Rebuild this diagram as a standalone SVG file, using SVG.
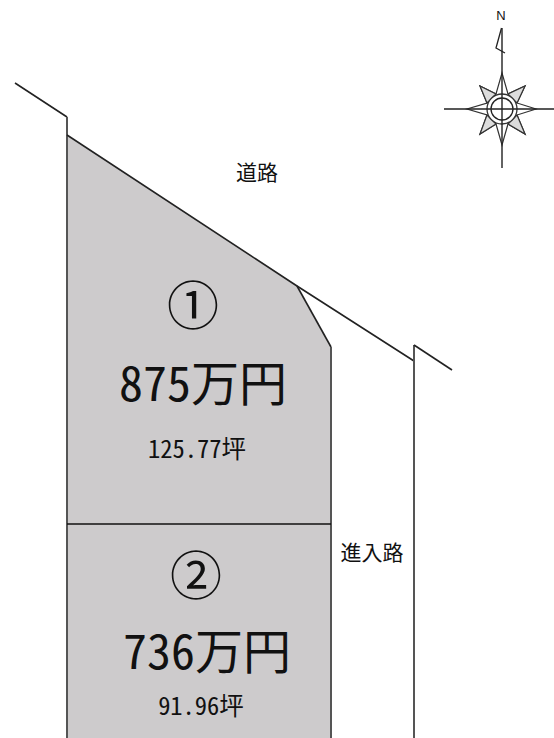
<svg xmlns="http://www.w3.org/2000/svg" width="554" height="738" viewBox="0 0 554 738">
<style>
text{font-family:"Noto Sans CJK JP","Noto Sans CJK SC",sans-serif;font-feature-settings:"hwid";fill:#111;text-anchor:middle}
.l{fill:none;stroke:#222;stroke-width:1.6;stroke-linejoin:miter}
.g{stroke:#555;stroke-width:2;fill:none}
.num{font-size:52px}
.price{font-size:48px}
.area{font-size:24.500px}
.road{font-size:21px}
</style>
<rect width="554" height="738" fill="#fff"/>
<g id="lot1"><path d="M67 135L297 286L331 347V524H67Z" fill="#cdcbcc"/></g>
<g id="lot2"><path d="M67 524H331V738H67Z" fill="#cdcbcc"/></g>
<g id="connectors">
<path class="l" d="M15 83L67 117"/>
<path class="g" d="M67 117V738"/>
<path class="l" d="M67 135L297 286L414 361"/>
<path class="l" d="M297 286L331 347"/>
<path class="g" d="M331 347V738"/>
<path class="g" d="M414 345V738"/>
<path class="l" d="M414 345L452 370"/>
<path d="M67 524H331" stroke="#111" stroke-width="1.6" fill="none"/>
</g>
<g id="labels">
<text class="road" x="257" y="180">道路</text>
<text class="road" x="372" y="560">進入路</text>
<text class="num" x="193" y="325">①</text>
<text class="price" x="203" y="401">875万円</text>
<text class="area" x="197" y="458">125.77坪</text>
<text class="num" x="196" y="595">②</text>
<text class="price" x="207" y="669">736万円</text>
<text class="area" x="201" y="715">91.96坪</text>
</g>
<g id="compass">
<text x="501" y="20" style="font-size:13px;font-family:'Liberation Sans',sans-serif">N</text>
<path d="M501.500 28L496 48L505 53" fill="none" stroke="#222" stroke-width="1.300"/>
<path d="M502 73L508 94L525 86L517 103L536 109L517 115L525 134L508 124L502 145L496 124L480 134L487 115L467 109L487 103L480 86L496 94Z" fill="#fff" stroke="#333" stroke-width="1.200"/>
<path d="M508 94L525 86L517 103ZM517 115L525 134L508 124ZM496 124L480 134L487 115ZM487 103L480 86L496 94Z" fill="#dcdcdc" stroke="#333" stroke-width="1.200"/>
<circle cx="502" cy="109" r="15" fill="#fff" stroke="#333" stroke-width="1.300"/>
<circle cx="502" cy="109" r="11" fill="#fff" stroke="#222" stroke-width="1.300"/>
<path d="M502 28V168M444 109H554" stroke="#222" stroke-width="1.400" fill="none"/>
</g>
</svg>
